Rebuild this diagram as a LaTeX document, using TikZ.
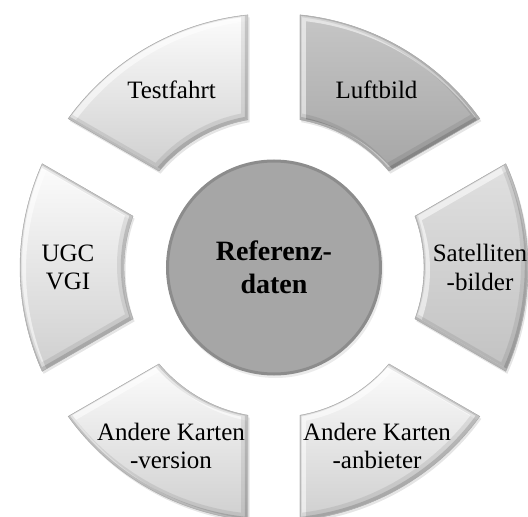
\documentclass[tikz,border=0pt]{standalone}
\usepackage{fontspec}
\setmainfont{Liberation Serif}

% ring geometry (pt): outer/inner radius, corner angle offsets for a 26pt half gap
\pgfmathsetmacro{\RingOut}{254}
\pgfmathsetmacro{\RingIn}{150}
\pgfmathsetmacro{\OffOut}{asin(26/254)}
\pgfmathsetmacro{\OffIn}{asin(26/150)}

% one ring segment centred on angle #1, with straight parallel gap edges
\newcommand{\SegmentPath}[1]{%
  ({#1-30+\OffOut}:\RingOut) arc[start angle={#1-30+\OffOut}, end angle={#1+30-\OffOut}, radius=\RingOut]
  -- ({#1+30-\OffIn}:\RingIn) arc[start angle={#1+30-\OffIn}, end angle={#1-30+\OffIn}, radius=\RingIn] -- cycle}

% bevelled segment: shadow, vertical gradient, light and dark rims
\newcommand{\DrawSegment}[3]{%
  \fill[black, opacity=0.10, shift={(1.5,-2.5)}] \SegmentPath{#1};
  \shade[top color=#2, bottom color=#3] \SegmentPath{#1};
  \begin{scope}
    \clip \SegmentPath{#1};
    \draw[white, line width=7, opacity=0.55, shift={(2.5,-2.5)}] \SegmentPath{#1};
    \draw[black, line width=9, opacity=0.08, shift={(-2.5,2.5)}] \SegmentPath{#1};
    \draw[black, line width=4, opacity=0.14, shift={(-1.2,1.2)}] \SegmentPath{#1};
  \end{scope}
  \draw[black!35, line width=0.4] \SegmentPath{#1};
}

\definecolor{paleTop}{HTML}{FCFCFC}
\definecolor{paleBottom}{HTML}{CFCFCF}
\definecolor{midTop}{HTML}{C6C6C6}
\definecolor{midBottom}{HTML}{A6A6A6}
\definecolor{lightTop}{HTML}{E0E0E0}
\definecolor{lightBottom}{HTML}{C2C2C2}
\definecolor{hubFill}{HTML}{A6A6A6}
\definecolor{hubRim}{HTML}{8C8C8C}

\tikzset{
  segtext/.style={inner sep=0pt, align=center, text=black,
    font=\fontsize{25}{28.5}\selectfont},
  hub/.style={circle, minimum size=213pt, inner sep=0pt, fill=hubFill,
    draw=hubRim, line width=3pt, align=center,
    font=\fontsize{28}{33}\selectfont\bfseries}
}

\begin{document}
\begin{tikzpicture}[x=1pt, y=1pt]
  \useasboundingbox (-274,-249.5) rectangle (254,267.5);

  \DrawSegment{120}{paleTop}{paleBottom}
  \DrawSegment{60}{midTop}{midBottom}
  \DrawSegment{0}{lightTop}{lightBottom}
  \DrawSegment{-60}{paleTop}{paleBottom}
  \DrawSegment{-120}{paleTop}{paleBottom}
  \DrawSegment{180}{paleTop}{paleBottom}

  \fill[black, opacity=0.08] (1.5,-2.5) circle[radius=108];
  \node[hub] (ref) at (0,0) {Referenz-\\daten};

  \node[segtext] (testfahrt)  at (120:205) {Testfahrt};
  \node[segtext] (luftbild)   at (60:205)  {Luftbild};
  \node[segtext] (satelliten) at (0:206)   {Satelliten\\-bilder};
  \node[segtext] (anbieter)   at (-60:206) {Andere Karten\\-anbieter};
  \node[segtext] (version)    at (-120:206) {Andere Karten\\-version};
  \node[segtext] (ugc)        at (180:206) {UGC\\VGI};
\end{tikzpicture}
\end{document}
